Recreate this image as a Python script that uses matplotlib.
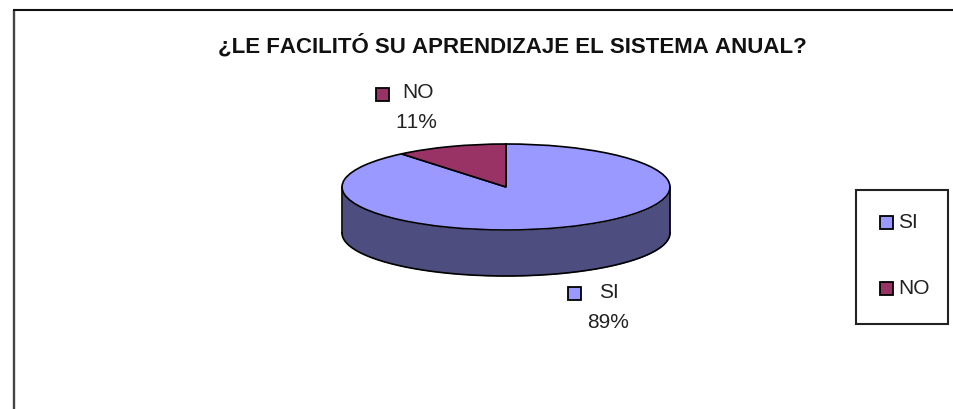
import numpy as np
from matplotlib import pyplot as plt
from matplotlib.patches import Rectangle

plt.rcParams['font.family'] = ['Liberation Sans', 'DejaVu Sans']
plt.rcParams['text.kerning_factor'] = 6

title = "¿LE FACILITÓ SU APRENDIZAJE EL SISTEMA ANUAL?"
categories = ["SI", "NO"]
percents = [89, 11]
colors = ["#9999ff", "#993366"]
side_color = "#4d4d80"

W, H = 954, 409
fig = plt.figure(figsize=(W / 100, H / 100), dpi=100)

# full figure axes in pixel coords, y going down
ax = fig.add_axes([0, 0, 1, 1])
ax.set_xlim(0, W)
ax.set_ylim(H, 0)
ax.axis("off")

# outer chart frame, only top and left show
ax.plot([14, 14], [H, 10], color="#444444", lw=1.7, solid_capstyle="butt")
ax.plot([13, W], [9.5, 9.5], color="#111111", lw=1.5, solid_capstyle="butt")

ax.text(512.5, 46, title, ha="center", va="center", fontsize=16, fontweight="bold", color="#111111")

# pie ellipse
cx, cy, a, b, depth = 506, 187, 164, 43, 46

# side wall of the disc
t = np.linspace(0, np.pi, 200)
xs = cx + a * np.cos(t)
ys = cy + b * np.sin(t)
ax.fill_between(xs, ys, ys + depth, color=side_color, lw=0, zorder=2)
ax.plot(xs, ys + depth, color="black", lw=1.2, zorder=3)
ax.plot([cx - a, cx - a], [cy, cy + depth], color="black", lw=1.2, zorder=3)
ax.plot([cx + a, cx + a], [cy, cy + depth], color="black", lw=1.2, zorder=3)

# top of the disc, real pie squeezed into an ellipse
pie_ax = fig.add_axes([(cx - a) / W, 1 - (cy + b) / H, 2 * a / W, 2 * b / H], zorder=3)
pie_ax.pie(percents, colors=colors, startangle=90, counterclock=False, radius=1,
           wedgeprops={"edgecolor": "black", "linewidth": 1.2})
pie_ax.set_xlim(-1, 1)
pie_ax.set_ylim(-1, 1)
pie_ax.set_aspect("auto")
for w in pie_ax.patches:
    w.set_clip_on(False)

# data labels: marker corner, name centre, percent centre
label_pos = {"SI": (568, 287, 609, 292, 608, 322), "NO": (376, 88, 418, 93, 416, 122)}
for name, col, pct in zip(categories, colors, percents):
    mx, my, nx, ny, px, py = label_pos[name]
    ax.add_patch(Rectangle((mx, my), 13, 13, fc=col, ec="black", lw=1.3))
    ax.text(nx, ny, name, ha="center", va="center", fontsize=15, color="#222222")
    ax.text(px, py, f"{pct}%", ha="center", va="center", fontsize=15, color="#222222")

# legend box
ax.add_patch(Rectangle((856, 190), 92, 134, fc="white", ec="#222222", lw=1.5))
for name, col, y in zip(categories, colors, [222, 288]):
    ax.add_patch(Rectangle((880, y - 6), 13, 13, fc=col, ec="black", lw=1.3))
    ax.text(898, y, name, ha="left", va="center", fontsize=15, color="#222222")

fig.savefig("out.png", dpi=100)
